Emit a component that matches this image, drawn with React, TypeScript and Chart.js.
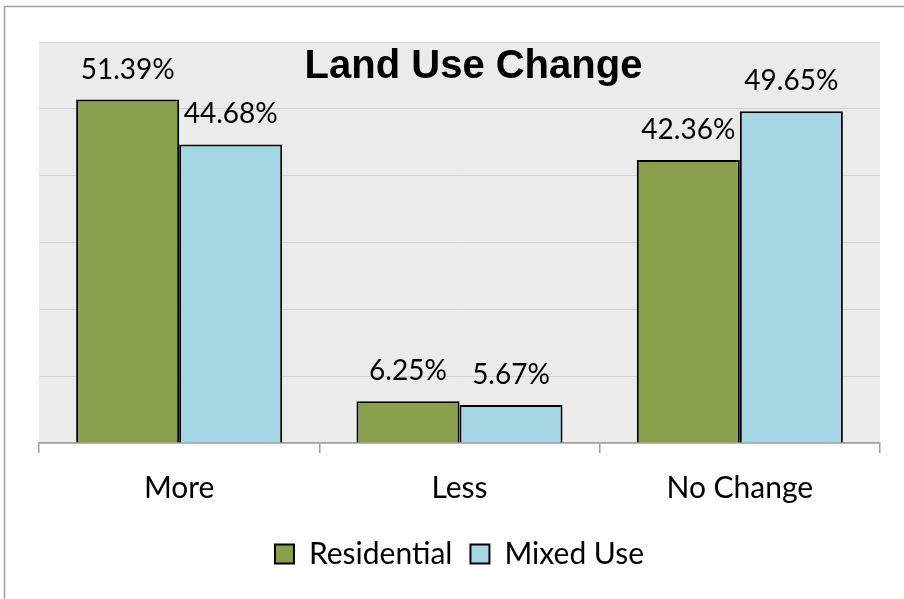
import React, { useEffect, useRef } from "react";
import { Chart, registerables } from "chart.js";

Chart.register(...registerables);

const categories = ["More", "Less", "No Change"];
const residential = [51.39, 6.25, 42.36];
const mixedUse = [44.68, 5.67, 49.65];
const seriesNames = ["Residential", "Mixed Use"];
const chartTitle = "Land Use Change";

const backgroundPlugin = {
  id: "bgPlugin",
  beforeDraw(chart: any) {
    const { ctx, chartArea } = chart;
    ctx.save();
    ctx.fillStyle = "#ffffff";
    ctx.fillRect(0, 0, chart.width, chart.height);
    ctx.strokeStyle = "#a0a0a0";
    ctx.lineWidth = 1.5;
    ctx.strokeRect(4.5, 6.5, chart.width + 50, chart.height + 50);
    ctx.fillStyle = "#ebebeb";
    ctx.fillRect(chartArea.left, chartArea.top, chartArea.right - chartArea.left, chartArea.bottom - chartArea.top);
    ctx.restore();
  },
  afterDatasetsDraw(chart: any) {
    const { ctx } = chart;
    ctx.save();
    ctx.fillStyle = "#000";
    ctx.font = "28px Lato";
    ctx.textAlign = "center";
    ctx.textBaseline = "alphabetic";
    chart.data.datasets.forEach((ds: any, di: number) => {
      const meta = chart.getDatasetMeta(di);
      meta.data.forEach((bar: any, i: number) => {
        ctx.fillText(ds.data[i].toFixed(2) + "%", bar.x, bar.y - 21);
      });
    });
    const ca = chart.chartArea;
    ctx.font = "bold 40px 'Liberation Sans'";
    ctx.fillText(chartTitle, (ca.left + ca.right) / 2 + 14, ca.top + 36);
    ctx.restore();
  },
};

export default function App() {
  const ref = useRef<HTMLCanvasElement>(null);
  useEffect(() => {
    if (!ref.current) return;
    const chart = new Chart(ref.current, {
      type: "bar",
      data: {
        labels: categories,
        datasets: [
          {
            label: seriesNames[0],
            data: residential,
            backgroundColor: "#8a9f4b",
            borderColor: "#000000",
            borderWidth: 2,
            borderSkipped: "bottom",
            categoryPercentage: 0.735,
            barPercentage: 1,
          },
          {
            label: seriesNames[1],
            data: mixedUse,
            backgroundColor: "#a4d6e3",
            borderColor: "#000000",
            borderWidth: 2,
            borderSkipped: "bottom",
            categoryPercentage: 0.735,
            barPercentage: 1,
          },
        ],
      },
      options: {
        animation: false,
        responsive: false,
        maintainAspectRatio: false,
        layout: { padding: { left: 39, right: 24, top: 42, bottom: 20 } },
        plugins: {
          title: { display: false },
          tooltip: { enabled: false },
          legend: {
            position: "bottom",
            labels: {
              boxWidth: 19,
              boxHeight: 19,
              padding: 18,
              color: "#000",
              font: { family: "Lato", size: 30 },
            },
          },
        },
        scales: {
          y: {
            min: 0,
            max: 60,
            ticks: { stepSize: 10, display: false },
            grid: { color: "#d0d0d0", lineWidth: 1, drawTicks: false },
            border: { display: false },
            afterFit(s: any) {
              s.width = 0;
            },
          },
          x: {
            grid: {
              drawOnChartArea: false,
              drawTicks: true,
              tickLength: 10,
              color: "#a0a0a0",
              lineWidth: 1.5,
            },
            border: { display: true, color: "#a0a0a0", width: 1.5 },
            ticks: {
              color: "#000",
              padding: 17,
              font: { family: "Lato", size: 30 },
            },
            afterFit(s: any) {
              s.height = 78;
            },
          },
        },
      },
      plugins: [backgroundPlugin],
    });
    return () => chart.destroy();
  }, []);
  return (
    <div style={{ position: "fixed", left: 0, top: 0, width: 904, height: 599, background: "#fff" }}>
      <canvas ref={ref} width={904} height={599} style={{ display: "block", width: 904, height: 599 }} />
    </div>
  );
}
